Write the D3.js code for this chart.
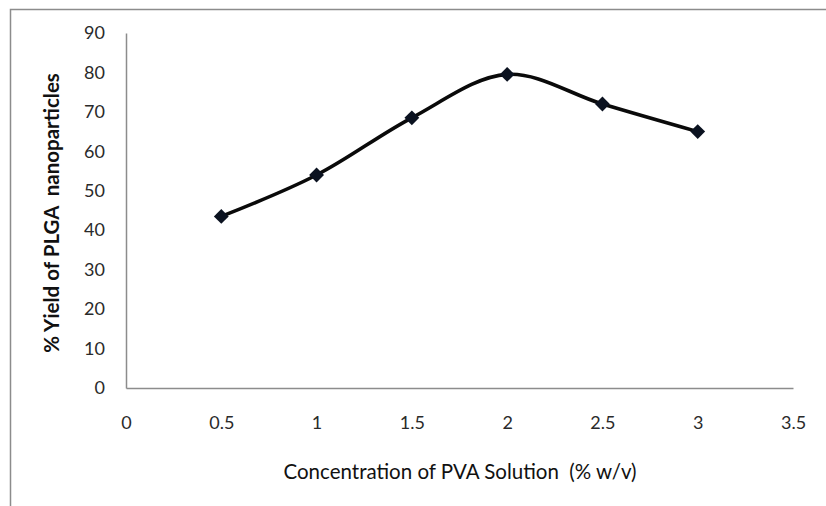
<!DOCTYPE html>
<html>
<head>
<meta charset="utf-8">
<script src="https://cdn.jsdelivr.net/npm/d3@7"></script>
<style>
  html, body { margin: 0; padding: 0; background: #fff; }
  svg { display: block; }
  .title { white-space: pre; }
</style>
</head>
<body>
<svg id="chart" width="826" height="506"></svg>
<script>
// PVA concentration (% w/v) and resulting PLGA nanoparticle yield (%)
const concentrations = [0.5, 1, 1.5, 2, 2.5, 3];
const yields = [43.5, 54, 68.5, 79.5, 72, 65];
const xTicks = [0, 0.5, 1, 1.5, 2, 2.5, 3, 3.5];
const yTicks = [0, 10, 20, 30, 40, 50, 60, 70, 80, 90];

const svg = d3.select("#chart");
const font = "Lato, 'Open Sans', sans-serif";

// outer chart frame
svg.append("rect")
  .attr("x", 10.5).attr("y", 9.5)
  .attr("width", 830).attr("height", 510)
  .attr("fill", "none").attr("stroke", "#8c8c8c").attr("stroke-width", 1.5);

const x = d3.scaleLinear().domain([0, 3.5]).range([126, 793]);
const y = d3.scaleLinear().domain([0, 90]).range([388, 33]);

// axes (no tick marks, grey lines)
const xAxis = svg.append("g").attr("transform", "translate(0,388)")
  .call(d3.axisBottom(x).tickValues(xTicks).tickSize(0).tickPadding(33)
    .tickFormat(d => String(d)));
const yAxis = svg.append("g").attr("transform", "translate(126,0)")
  .call(d3.axisLeft(y).tickValues(yTicks).tickSize(0).tickPadding(21)
    .tickFormat(d => String(d)));

[xAxis, yAxis].forEach(g => {
  g.select(".domain").attr("stroke", "#8c8c8c").attr("stroke-width", 1.5);
  g.selectAll("text").attr("fill", "#2a2a2a").style("font-family", font).style("font-size", "18px");
});
xAxis.selectAll("text").attr("dy", "0.45em");

// axis titles
svg.append("text")
  .attr("class", "title")
  .attr("x", 460).attr("y", 479)
  .attr("text-anchor", "middle")
  .style("font-family", font).style("font-size", "20.5px").attr("fill", "#111")
  .text("Concentration of PVA Solution  (% w/v)");

svg.append("text")
  .attr("class", "title")
  .attr("transform", "translate(59,213) rotate(-90)")
  .attr("text-anchor", "middle")
  .style("font-family", font).style("font-size", "20.5px").style("font-weight", "bold").attr("fill", "#111")
  .text("% Yield of PLGA  nanoparticles");

// smoothed series line
const pts = concentrations.map((c, i) => [c, yields[i]]);
const line = d3.line()
  .x(d => x(d[0])).y(d => y(d[1]))
  .curve(d3.curveCatmullRom.alpha(0.5));

svg.append("path")
  .datum(pts)
  .attr("d", line)
  .attr("fill", "none").attr("stroke", "#0a0a0a").attr("stroke-width", 3.6);

// diamond markers
const diamond = d3.symbol().type(d3.symbolDiamond2).size(140);
svg.selectAll(".marker")
  .data(pts)
  .join("path")
  .attr("class", "marker")
  .attr("transform", d => `translate(${x(d[0])},${y(d[1])})`)
  .attr("d", diamond)
  .attr("fill", "#0b1220");
</script>
</body>
</html>
